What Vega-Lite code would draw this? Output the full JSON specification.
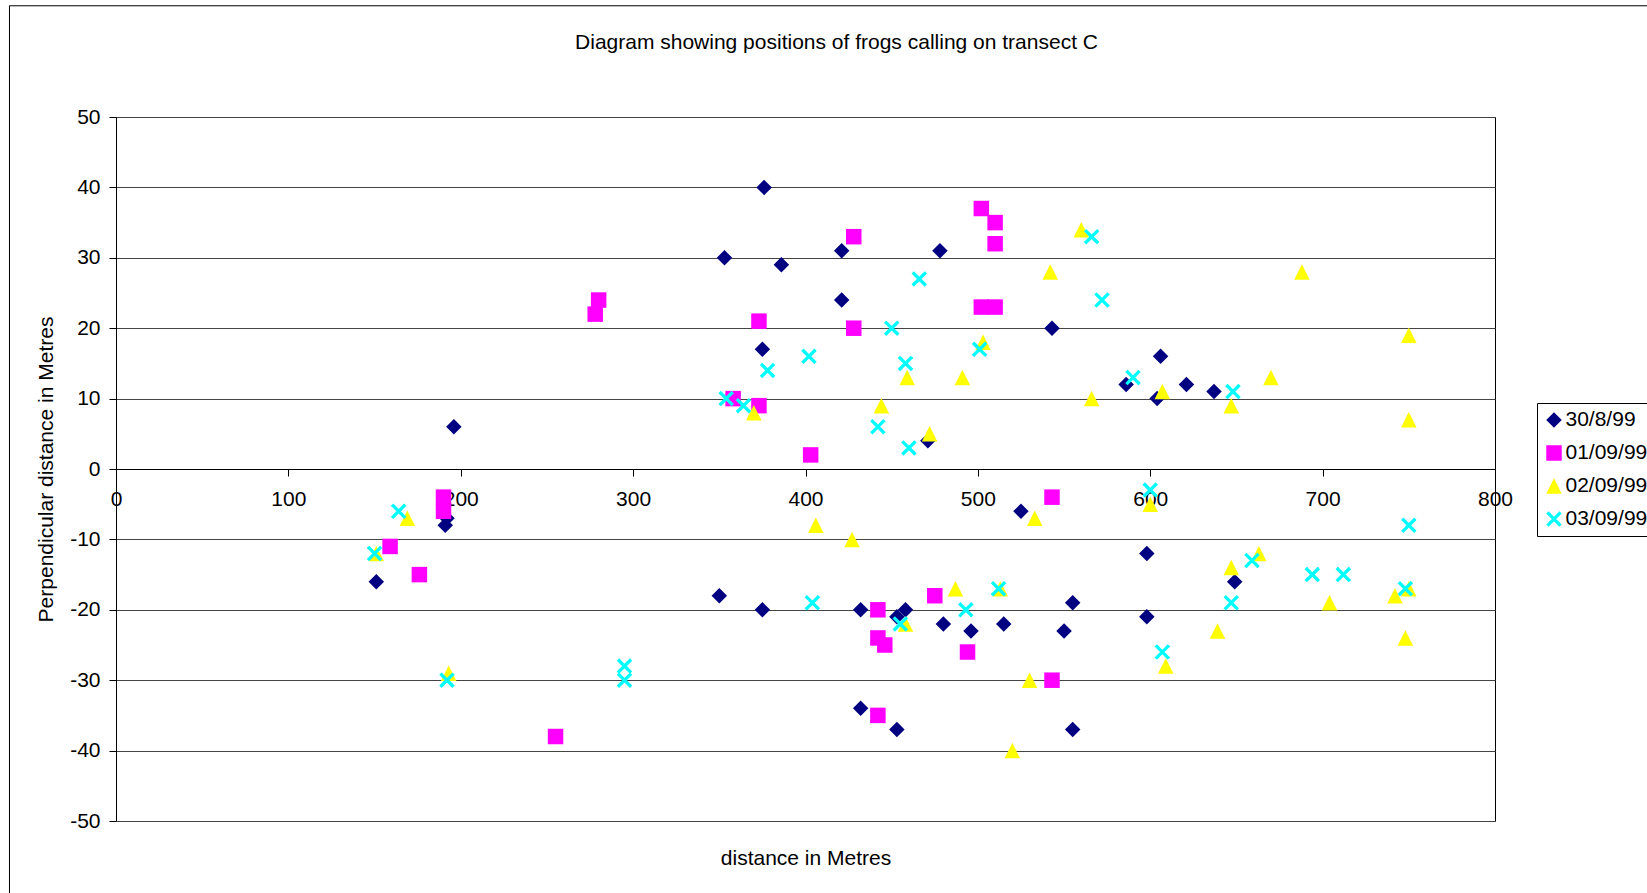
{
  "$schema": "https://vega.github.io/schema/vega-lite/v6.json",
  "width": 1379,
  "height": 704,
  "autosize": "none",
  "padding": {"left": 116, "top": 117, "right": 152, "bottom": 72},
  "background": "white",
  "title": {
    "text": "Diagram showing positions of frogs calling on transect C",
    "anchor": "middle",
    "frame": "group",
    "dx": 31,
    "offset": -64.7,
    "baseline": "alphabetic",
    "fontSize": 21,
    "fontWeight": "normal",
    "font": "Liberation Sans",
    "color": "black"
  },
  "config": {
    "font": "Liberation Sans",
    "view": {"stroke": "black", "strokeWidth": 1},
    "axis": {
      "labelFont": "Liberation Sans",
      "labelFontSize": 21,
      "labelColor": "black",
      "titleFont": "Liberation Sans",
      "titleFontSize": 21,
      "titleFontWeight": "normal",
      "titleColor": "black",
      "tickColor": "black",
      "domainColor": "black",
      "tickSize": 7,
      "labelFlush": false,
      "labelOverlap": false
    },
    "legend": {
      "orient": "none",
      "legendX": 1421,
      "legendY": 286,
      "strokeColor": "black",
      "strokeWidth": 1,
      "fillColor": "white",
      "padding": 6.5,
      "rowPadding": 11,
      "labelFont": "Liberation Sans",
      "labelFontSize": 21,
      "labelColor": "black",
      "labelOffset": 1,
      "symbolSize": 240,
      "symbolStrokeWidth": 0,
      "symbolOpacity": 1
    }
  },
  "layer": [
    {
      "data": {
        "values": [
          {"d": "30/8/99", "x": 196, "y": 6},
          {"d": "30/8/99", "x": 192, "y": -7},
          {"d": "30/8/99", "x": 191, "y": -8},
          {"d": "30/8/99", "x": 151, "y": -16},
          {"d": "30/8/99", "x": 376, "y": 40},
          {"d": "30/8/99", "x": 353, "y": 30},
          {"d": "30/8/99", "x": 386, "y": 29},
          {"d": "30/8/99", "x": 421, "y": 31},
          {"d": "30/8/99", "x": 478, "y": 31},
          {"d": "30/8/99", "x": 421, "y": 24},
          {"d": "30/8/99", "x": 375, "y": 17},
          {"d": "30/8/99", "x": 471, "y": 4},
          {"d": "30/8/99", "x": 350, "y": -18},
          {"d": "30/8/99", "x": 375, "y": -20},
          {"d": "30/8/99", "x": 432, "y": -20},
          {"d": "30/8/99", "x": 453, "y": -21},
          {"d": "30/8/99", "x": 458, "y": -20},
          {"d": "30/8/99", "x": 480, "y": -22},
          {"d": "30/8/99", "x": 496, "y": -23},
          {"d": "30/8/99", "x": 432, "y": -34},
          {"d": "30/8/99", "x": 453, "y": -37},
          {"d": "30/8/99", "x": 543, "y": 20},
          {"d": "30/8/99", "x": 606, "y": 16},
          {"d": "30/8/99", "x": 586, "y": 12},
          {"d": "30/8/99", "x": 604, "y": 10},
          {"d": "30/8/99", "x": 621, "y": 12},
          {"d": "30/8/99", "x": 637, "y": 11},
          {"d": "30/8/99", "x": 525, "y": -6},
          {"d": "30/8/99", "x": 598, "y": -12},
          {"d": "30/8/99", "x": 649, "y": -16},
          {"d": "30/8/99", "x": 555, "y": -19},
          {"d": "30/8/99", "x": 515, "y": -22},
          {"d": "30/8/99", "x": 550, "y": -23},
          {"d": "30/8/99", "x": 598, "y": -21},
          {"d": "30/8/99", "x": 555, "y": -37},
          {"d": "01/09/99", "x": 190, "y": -4},
          {"d": "01/09/99", "x": 190, "y": -6},
          {"d": "01/09/99", "x": 159, "y": -11},
          {"d": "01/09/99", "x": 176, "y": -15},
          {"d": "01/09/99", "x": 255, "y": -38},
          {"d": "01/09/99", "x": 280, "y": 24},
          {"d": "01/09/99", "x": 278, "y": 22},
          {"d": "01/09/99", "x": 373, "y": 21},
          {"d": "01/09/99", "x": 428, "y": 33},
          {"d": "01/09/99", "x": 428, "y": 20},
          {"d": "01/09/99", "x": 358, "y": 10},
          {"d": "01/09/99", "x": 373, "y": 9},
          {"d": "01/09/99", "x": 403, "y": 2},
          {"d": "01/09/99", "x": 502, "y": 37},
          {"d": "01/09/99", "x": 510, "y": 35},
          {"d": "01/09/99", "x": 510, "y": 32},
          {"d": "01/09/99", "x": 502, "y": 23},
          {"d": "01/09/99", "x": 510, "y": 23},
          {"d": "01/09/99", "x": 442, "y": -20},
          {"d": "01/09/99", "x": 442, "y": -24},
          {"d": "01/09/99", "x": 446, "y": -25},
          {"d": "01/09/99", "x": 475, "y": -18},
          {"d": "01/09/99", "x": 494, "y": -26},
          {"d": "01/09/99", "x": 442, "y": -35},
          {"d": "01/09/99", "x": 543, "y": -4},
          {"d": "01/09/99", "x": 543, "y": -30},
          {"d": "02/09/99", "x": 169, "y": -7},
          {"d": "02/09/99", "x": 151, "y": -12},
          {"d": "02/09/99", "x": 193, "y": -29},
          {"d": "02/09/99", "x": 370, "y": 8},
          {"d": "02/09/99", "x": 444, "y": 9},
          {"d": "02/09/99", "x": 459, "y": 13},
          {"d": "02/09/99", "x": 472, "y": 5},
          {"d": "02/09/99", "x": 491, "y": 13},
          {"d": "02/09/99", "x": 503, "y": 18},
          {"d": "02/09/99", "x": 406, "y": -8},
          {"d": "02/09/99", "x": 427, "y": -10},
          {"d": "02/09/99", "x": 487, "y": -17},
          {"d": "02/09/99", "x": 458, "y": -22},
          {"d": "02/09/99", "x": 560, "y": 34},
          {"d": "02/09/99", "x": 542, "y": 28},
          {"d": "02/09/99", "x": 688, "y": 28},
          {"d": "02/09/99", "x": 566, "y": 10},
          {"d": "02/09/99", "x": 607, "y": 11},
          {"d": "02/09/99", "x": 647, "y": 9},
          {"d": "02/09/99", "x": 670, "y": 13},
          {"d": "02/09/99", "x": 750, "y": 19},
          {"d": "02/09/99", "x": 750, "y": 7},
          {"d": "02/09/99", "x": 533, "y": -7},
          {"d": "02/09/99", "x": 600, "y": -5},
          {"d": "02/09/99", "x": 663, "y": -12},
          {"d": "02/09/99", "x": 647, "y": -14},
          {"d": "02/09/99", "x": 513, "y": -17},
          {"d": "02/09/99", "x": 704, "y": -19},
          {"d": "02/09/99", "x": 742, "y": -18},
          {"d": "02/09/99", "x": 750, "y": -17},
          {"d": "02/09/99", "x": 639, "y": -23},
          {"d": "02/09/99", "x": 748, "y": -24},
          {"d": "02/09/99", "x": 609, "y": -28},
          {"d": "02/09/99", "x": 530, "y": -30},
          {"d": "02/09/99", "x": 520, "y": -40},
          {"d": "03/09/99", "x": 164, "y": -6},
          {"d": "03/09/99", "x": 150, "y": -12},
          {"d": "03/09/99", "x": 192, "y": -30},
          {"d": "03/09/99", "x": 295, "y": -28},
          {"d": "03/09/99", "x": 295, "y": -30},
          {"d": "03/09/99", "x": 404, "y": -19},
          {"d": "03/09/99", "x": 455, "y": -22},
          {"d": "03/09/99", "x": 493, "y": -20},
          {"d": "03/09/99", "x": 354, "y": 10},
          {"d": "03/09/99", "x": 364, "y": 9},
          {"d": "03/09/99", "x": 378, "y": 14},
          {"d": "03/09/99", "x": 402, "y": 16},
          {"d": "03/09/99", "x": 442, "y": 6},
          {"d": "03/09/99", "x": 460, "y": 3},
          {"d": "03/09/99", "x": 458, "y": 15},
          {"d": "03/09/99", "x": 450, "y": 20},
          {"d": "03/09/99", "x": 466, "y": 27},
          {"d": "03/09/99", "x": 501, "y": 17},
          {"d": "03/09/99", "x": 566, "y": 33},
          {"d": "03/09/99", "x": 572, "y": 24},
          {"d": "03/09/99", "x": 590, "y": 13},
          {"d": "03/09/99", "x": 648, "y": 11},
          {"d": "03/09/99", "x": 600, "y": -3},
          {"d": "03/09/99", "x": 750, "y": -8},
          {"d": "03/09/99", "x": 659, "y": -13},
          {"d": "03/09/99", "x": 694, "y": -15},
          {"d": "03/09/99", "x": 712, "y": -15},
          {"d": "03/09/99", "x": 748, "y": -17},
          {"d": "03/09/99", "x": 512, "y": -17},
          {"d": "03/09/99", "x": 647, "y": -19},
          {"d": "03/09/99", "x": 607, "y": -26}
        ]
      },
      "mark": {"type": "point", "filled": true, "size": 240, "opacity": 1, "strokeWidth": 0},
      "encoding": {
        "x": {
          "field": "x",
          "type": "quantitative",
          "scale": {"domain": [0, 800], "nice": false, "zero": false},
          "axis": {
            "orient": "bottom",
            "offset": -352,
            "values": [0, 100, 200, 300, 400, 500, 600, 700, 800],
            "grid": false,
            "labelPadding": 12,
            "title": "distance in Metres",
            "titleY": 389,
            "titleBaseline": "middle"
          }
        },
        "y": {
          "field": "y",
          "type": "quantitative",
          "scale": {"domain": [-50, 50], "nice": false, "zero": false},
          "axis": {
            "orient": "left",
            "values": [-50, -40, -30, -20, -10, 0, 10, 20, 30, 40, 50],
            "grid": true,
            "gridColor": "#444444",
            "gridWidth": 1,
            "labelPadding": 9,
            "labelExpr": "datum.value + ''",
            "title": "Perpendicular distance in Metres",
            "titleX": -70,
            "titleBaseline": "middle"
          }
        },
        "color": {
          "field": "d",
          "type": "nominal",
          "scale": {
            "domain": ["30/8/99", "01/09/99", "02/09/99", "03/09/99"],
            "range": ["#000080", "#FF00FF", "#FFFF00", "#00FFFF"]
          },
          "legend": {"title": null}
        },
        "shape": {
          "field": "d",
          "type": "nominal",
          "scale": {
            "domain": ["30/8/99", "01/09/99", "02/09/99", "03/09/99"],
            "range": ["diamond", "square", "M0,-1L1,1L-1,1Z", "M-1,-0.7L-0.7,-1L1,0.7L0.7,1ZM0.7,-1L1,-0.7L-0.7,1L-1,0.7Z"]
          },
          "legend": {"title": null}
        }
      }
    },
    {
      "data": {"values": [{"frame": 1}]},
      "mark": {"type": "rect", "filled": false, "stroke": "black", "strokeWidth": 1, "clip": false},
      "encoding": {
        "x": {"datum": -61.8, "type": "quantitative"},
        "x2": {"datum": 919},
        "y": {"datum": 65.8, "type": "quantitative"},
        "y2": {"datum": -64}
      }
    }
  ]
}
